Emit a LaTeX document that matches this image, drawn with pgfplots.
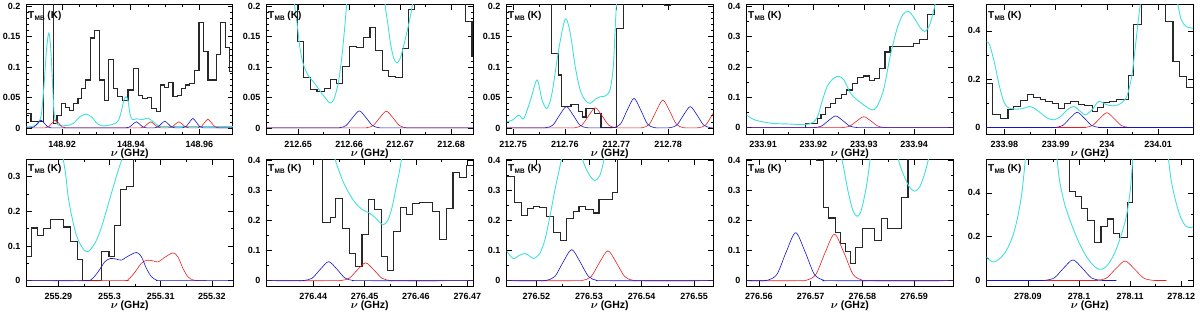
\documentclass[border=0pt]{standalone}
\usepackage{pgfplots}
\pgfplotsset{compat=1.18}
\usepackage{fontspec}
\setmainfont{Liberation Sans}
\definecolor{cyn}{RGB}{64,224,220}
\definecolor{blu}{RGB}{20,20,200}
\definecolor{rd}{RGB}{230,30,30}
\definecolor{hst}{RGB}{40,40,40}
\newcommand{\tmb}{T\kern0.3pt\raisebox{-1.5pt}{\fontsize{6.5}{7}\selectfont MB}\ (K)}
\pgfplotsset{
 panel/.style={scale only axis, width=206.5pt, anchor=south west,
  axis line style={line width=1pt}, tick align=inside,
  major tick length=5pt, minor tick length=2.5pt,
  every tick/.style={black,line width=0.6pt}, scaled ticks=false,
  xticklabel style={anchor=center, yshift=-10.5pt, inner sep=0pt},
  yticklabel style={anchor=east, xshift=-6pt, inner sep=0pt},
  tick label style={font=\fontsize{9}{10}\selectfont\bfseries},
  label style={font=\fontsize{10.5}{11}\selectfont\bfseries},
  xlabel={$\boldsymbol{\nu}$ (GHz)},
  xlabel style={at={(axis description cs:0.5,0)}, anchor=center, yshift=-20pt, inner sep=0pt},
  no markers, clip=true},
 toprow/.style={panel, height=129pt},
 botrow/.style={panel, height=126pt},
 hist/.style={hst, line width=1.1pt, const plot},
 cy/.style={cyn, line width=0.9pt, smooth},
 bl/.style={blu, line width=0.6pt, smooth},
 rdl/.style={rd, line width=0.6pt, smooth},
}
\usepackage{amsmath,amssymb}
\newcommand{\tlab}[1]{\node[anchor=north west, inner sep=0pt, xshift=1.5pt, yshift=#1, font=\fontsize{10}{11}\selectfont\bfseries] at (rel axis cs:0,1) {\tmb};}
\begin{document}
\begin{tikzpicture}
\useasboundingbox (0,0) rectangle (1200pt,314pt);
% ---------------- Panel 1 ----------------
\begin{axis}[toprow, at={(26.5pt,180pt)}, xmin=9.6, xmax=69.8, ymin=-0.01, ymax=0.202,
 xtick={20,40,60}, xticklabels={148.92,148.94,148.96},
 ytick={0,0.05,0.1,0.15,0.2}, yticklabels={0,0.05,0.1,0.15,0.2}, minor x tick num=3, minor y tick num=4]
\addplot[hist] coordinates {(9.6,0.0237) (10.9,0.0099) (14.5,0.5) (17.4,0.0072) (18.5,0.0209) (19.8,0.0402) (21.0,0.0336) (22.2,0.0281) (23.4,0.0402) (24.6,0.0485) (25.7,0.0650) (26.9,0.0788) (28.2,0.1477) (29.5,0.1603) (31.0,0.0788) (32.3,0.0457) (33.5,0.1130) (34.9,0.0650) (36.2,0.0512) (37.6,0.0457) (39.2,0.0623) (40.9,0.0981) (42.3,0.0540) (43.5,0.0485) (44.8,0.0496) (46.0,0.0320) (47.4,0.0276) (48.6,0.0705) (49.9,0.0667) (51.0,0.0744) (52.3,0.0512) (53.6,0.0540) (54.7,0.0650) (55.9,0.0705) (57.2,0.0733) (58.6,0.0937) (59.9,0.1736) (61.3,0.1256) (62.5,0.0788) (65.0,0.1201) (66.2,0.1725) (67.6,0.1328) (68.8,0.0926) (69.8,0.0926)};
\addplot[cy] coordinates {(9.6,0.0017) (11.53,0.0028) (13.0,0.0072) (13.97,0.0237) (14.75,0.0733) (15.43,0.1284) (16.11,0.1559) (16.69,0.1284) (17.18,0.0733) (17.66,0.0237) (18.35,0.0083) (19.32,0.0039) (21.26,0.0039) (23.21,0.0072) (25.16,0.0182) (26.91,0.0226) (28.56,0.0182) (30.22,0.0072) (31.97,0.0033) (34.89,0.0061) (36.35,0.0116) (37.32,0.0292) (38.0,0.0457) (38.58,0.0512) (39.17,0.0457) (39.75,0.0237) (40.43,0.0138) (41.7,0.0149) (43.45,0.0138) (45.1,0.016) (46.56,0.0099) (48.02,0.0039) (49.48,0.0022) (69.8,0.0022)};
\addplot[rdl] coordinates {(9.6,0) (14.0,0) (15.0,0.0001) (16.0,0.0017) (17.0,0.0077) (18.0,0.0127) (19.0,0.0077) (20.0,0.0017) (21.0,0.0001) (22.0,0) (41.8,0) (42.8,0.0001) (43.8,0.00135) (44.8,0.0061) (45.8,0.010) (46.8,0.0061) (47.8,0.00135) (48.8,0.0001) (49.8,0) (50.0,0) (51.0,0.0001) (52.0,0.00135) (53.0,0.0061) (54.0,0.010) (55.0,0.0061) (56.0,0.00135) (57.0,0.0001) (58.0,0) (58.5,0) (59.5,0.0002) (60.5,0.0019) (61.5,0.0087) (62.5,0.0143) (63.5,0.0087) (64.5,0.0019) (65.5,0.0002) (66.5,0) (69.8,0)};
\addplot[bl] coordinates {(9.6,0) (9.8,0) (10.8,0.0001) (11.8,0.0017) (12.8,0.0077) (13.8,0.0127) (14.8,0.0077) (15.8,0.0017) (16.8,0.0001) (17.8,0) (37.6,0) (38.6,0.0001) (39.6,0.00135) (40.6,0.0061) (41.6,0.010) (42.6,0.0061) (43.6,0.00135) (44.6,0.0001) (45.6,0) (45.9,0) (46.9,0.0001) (47.9,0.0015) (48.9,0.0067) (49.9,0.011) (50.9,0.0067) (51.9,0.0015) (52.9,0.0001) (53.9,0) (54.1,0) (55.1,0.0002) (56.1,0.0021) (57.1,0.0094) (58.1,0.0155) (59.1,0.0094) (60.1,0.0021) (61.1,0.0002) (62.1,0) (69.8,0)};
\tlab{-6.5pt}
\end{axis}
% ---------------- Panel 2 ----------------
\begin{axis}[toprow, at={(266.5pt,180pt)}, xmin=3.8, xmax=44.3, ymin=-0.01, ymax=0.202,
 xtick={10,20,30,40}, xticklabels={212.65,212.66,212.67,212.68},
 ytick={0,0.05,0.1,0.15,0.2}, yticklabels={0,0.05,0.1,0.15,0.2}, minor x tick num=1, minor y tick num=4]
\addplot[hist] coordinates {(3.8,0.3) (9.8,0.1414) (11.0,0.0827) (12.4,0.063) (13.7,0.0592) (15.2,0.0647) (16.3,0.0795) (17.5,0.0729) (18.7,0.1003) (20.1,0.1332) (21.4,0.1321) (22.8,0.1485) (24.1,0.1644) (25.2,0.1277) (26.5,0.0948) (27.7,0.0849) (29.1,0.0822) (30.5,0.1304) (31.6,0.1945) (32.9,0.3) (42.9,0.1743) (44.1,0.1167) (44.3,0.1167)};
\addplot[cy] coordinates {(8.69,0.2428) (9.35,0.1989) (9.8,0.1715) (10.33,0.1332) (10.98,0.1058) (11.96,0.0866) (13.27,0.0729) (14.58,0.0575) (15.69,0.0455) (16.34,0.0411) (17.0,0.0466) (17.85,0.0729) (18.5,0.1112) (19.03,0.1551) (19.48,0.1989) (19.88,0.2428)};
\addplot[cy] coordinates {(26.68,0.2428) (27.07,0.2017) (27.59,0.1715) (28.12,0.1386) (28.77,0.114) (29.42,0.1069) (30.08,0.1156) (30.73,0.1359) (31.58,0.166) (32.24,0.1934) (32.69,0.2208) (33.0,0.26)};
\addplot[rdl] coordinates {(3.8,0) (22.1,0) (23.4,0.0003) (24.7,0.0037) (26.0,0.0166) (27.3,0.0274) (28.6,0.0166) (29.9,0.0037) (31.2,0.0003) (32.5,0) (44.3,0)};
\addplot[bl] coordinates {(3.8,0) (16.8,0) (18.1,0.0003) (19.4,0.0038) (20.7,0.017) (22.0,0.028) (23.3,0.017) (24.6,0.0038) (25.9,0.0003) (27.2,0) (44.3,0)};
\tlab{-6.5pt}
\end{axis}
% ---------------- Panel 3 ----------------
\begin{axis}[toprow, at={(506.5pt,180pt)}, xmin=8.7, xmax=48.7, ymin=-0.01, ymax=0.202,
 xtick={10,20,30,40}, xticklabels={212.75,212.76,212.77,212.78},
 ytick={0,0.05,0.1,0.15,0.2}, yticklabels={0,0.05,0.1,0.15,0.2}, minor x tick num=1, minor y tick num=4]
\addplot[hist] coordinates {(8.7,0.3) (17.5,0.123) (18.8,0.087) (19.4,0.035) (21.2,0.039) (22.6,0.027) (23.5,0.018) (24.1,0.032) (25.7,0.024) (27.0,0.0) (30.0,0.164) (31.4,0.3) (39.3,0.201) (40.4,0.3) (48.7,0.3)};
\addplot[cy] coordinates {(8.72,0.0099) (9.81,0.0127) (11.09,0.0209) (12.05,0.0154) (13.34,0.0457) (14.62,0.0788) (15.59,0.0457) (16.55,0.032) (17.51,0.0568) (18.8,0.1284) (20.08,0.1791) (21.04,0.1559) (22.01,0.1008) (22.97,0.0623) (23.93,0.0457) (24.89,0.0402) (25.86,0.0468) (26.82,0.0512) (27.78,0.0523) (28.75,0.0623) (29.39,0.1008) (29.71,0.1559) (30.03,0.211) (30.2,0.25)};
\addplot[rdl] coordinates {(8.7,0) (20.7,0) (22.0,0.0004) (23.3,0.0045) (24.6,0.020) (25.9,0.033) (27.2,0.020) (28.5,0.0045) (29.8,0.0004) (31.1,0) (33.8,0) (35.1,0.0005) (36.4,0.0062) (37.7,0.0277) (39.0,0.0457) (40.3,0.0277) (41.6,0.0062) (42.9,0.0005) (44.2,0) (44.7,0) (46.0,0.0004) (47.3,0.0049) (48.6,0.0219) (49.9,0.036) (51.2,0.0219)};
\addplot[bl] coordinates {(8.7,0) (15.1,0) (16.4,0.0004) (17.7,0.0047) (19.0,0.0212) (20.3,0.035) (21.6,0.0212) (22.9,0.0047) (24.2,0.0004) (25.5,0) (28.2,0) (29.5,0.0005) (30.8,0.0065) (32.1,0.0294) (33.4,0.0485) (34.7,0.0294) (36.0,0.0065) (37.3,0.0005) (38.6,0) (39.1,0) (40.4,0.0004) (41.7,0.0047) (43.0,0.0212) (44.3,0.035) (45.6,0.0212) (46.9,0.0047) (48.2,0.0004) (49.5,0)};
\tlab{-6.5pt}
\end{axis}
% ---------------- Panel 4 ----------------
\begin{axis}[toprow, at={(746.5pt,180pt)}, xmin=6.7, xmax=47.7, ymin=-0.021, ymax=0.404,
 xtick={10,20,30,40}, xticklabels={233.91,233.92,233.93,233.94},
 ytick={0,0.1,0.2,0.3,0.4}, yticklabels={0,0.1,0.2,0.3,0.4}, minor x tick num=1, minor y tick num=1]
\addplot[hist] coordinates {(18.5,0) (18.5,0.014) (20.8,0.029) (21.5,0.042) (22.4,0.067) (23.4,0.080) (24.4,0.097) (25.5,0.108) (26.6,0.124) (27.7,0.146) (28.8,0.166) (30.0,0.170) (31.1,0.155) (32.1,0.163) (33.1,0.194) (34.2,0.249) (35.2,0.267) (39.8,0.276) (41.1,0.289) (42.6,0.374) (44.1,0.5) (47.7,0.5)};
\addplot[cy] coordinates {(6.73,0.0418) (8.36,0.0253) (11.64,0.0143) (14.91,0.0121) (18.19,0.0099) (19.83,0.0165) (20.81,0.0363) (21.79,0.0913) (22.77,0.1375) (24.08,0.1639) (25.07,0.1683) (26.05,0.1573) (27.36,0.1133) (28.67,0.0913) (29.98,0.0748) (31.62,0.0583) (32.6,0.0693) (33.91,0.1243) (35.22,0.2343) (36.53,0.3223) (37.71,0.3718) (38.82,0.3828) (39.8,0.3663) (41.11,0.3311) (42.1,0.3168) (43.08,0.3388) (44.06,0.3993) (44.72,0.4543)};
\addplot[rdl] coordinates {(6.7,0) (24.4,0) (25.8,0.0004) (27.2,0.0049) (28.6,0.0219) (30.0,0.036) (31.4,0.0219) (32.8,0.0049) (34.2,0.0004) (35.6,0) (47.7,0)};
\addplot[bl] coordinates {(6.7,0) (18.8,0) (20.2,0.0004) (21.6,0.0052) (23.0,0.0234) (24.4,0.0385) (25.8,0.0234) (27.2,0.0052) (28.6,0.0004) (30.0,0) (47.7,0)};
\tlab{-6.5pt}
\end{axis}
% ---------------- Panel 5 ----------------
\begin{axis}[toprow, at={(986.5pt,180pt)}, xmin=6.5, xmax=46.8, ymin=-0.027, ymax=0.507,
 xtick={10,20,30,40}, xticklabels={233.98,233.99,234,234.01},
 ytick={0,0.2,0.4}, yticklabels={0,0.2,0.4}, minor x tick num=1, minor y tick num=1]
\addplot[hist] coordinates {(6.5,0.1834) (7.7,0.0524) (9.2,0.0386) (10.7,0.0731) (11.8,0.0869) (13.1,0.1117) (14.5,0.1351) (15.7,0.1241) (17.0,0.1172) (18.1,0.1076) (19.4,0.1007) (20.6,0.08) (21.7,0.1007) (22.9,0.1076) (24.5,0.0938) (25.6,0.0896) (27.1,0.0662) (28.2,0.0841) (29.4,0.1034) (30.5,0.1076) (31.9,0.1172) (34.2,0.2137) (35.2,0.4247) (36.8,0.7) (41.5,0.4385) (42.9,0.273) (44.2,0.211) (45.5,0.1669) (46.8,0.1669)};
\addplot[cy] coordinates {(6.45,0.3558) (7.1,0.342) (8.07,0.2661) (9.03,0.1696) (10.0,0.1007) (10.97,0.08) (12.58,0.0758) (13.87,0.08) (14.84,0.0869) (15.81,0.08) (17.1,0.0593) (18.39,0.0386) (19.68,0.0317) (20.97,0.0455) (22.26,0.0731) (23.55,0.0869) (24.84,0.0662) (25.8,0.0524) (27.09,0.0731) (28.38,0.1076) (30.0,0.0938) (31.29,0.0896) (32.58,0.0979) (33.87,0.1282) (34.83,0.211) (35.48,0.3213) (36.13,0.4454) (36.77,0.5557)};
\addplot[cy] coordinates {(43.41,0.5557) (43.86,0.5075) (44.51,0.4454) (45.48,0.4178) (46.77,0.411)};
\addplot[rdl] coordinates {(6.5,0) (24.4,0) (25.8,0.0007) (27.2,0.0082) (28.6,0.037) (30.0,0.061) (31.4,0.037) (32.8,0.0082) (34.2,0.0007) (35.6,0) (46.8,0)};
\addplot[bl] coordinates {(6.5,0) (18.6,0) (20.0,0.0007) (21.4,0.0085) (22.8,0.0382) (24.2,0.063) (25.6,0.0382) (27.0,0.0085) (28.4,0.0007) (29.8,0) (46.8,0)};
\tlab{-6.5pt}
\end{axis}
% ---------------- Panel 6 ----------------
\begin{axis}[botrow, at={(26.5pt,28pt)}, xmin=3.8, xmax=44.1, ymin=-0.0155, ymax=0.348,
 xtick={10,20,30,40}, xticklabels={255.29,255.3,255.31,255.32},
 ytick={0,0.1,0.2,0.3}, yticklabels={0,0.1,0.2,0.3}, minor x tick num=1, minor y tick num=1]
\addplot[hist] coordinates {(3.8,0.0707) (4.8,0.1518) (5.9,0.1308) (7.2,0.15) (8.5,0.1767) (11.1,0.1547) (12.4,0.1117) (13.7,0.0621) (14.7,0.0) (18.4,0.085) (19.9,0.0707) (21.0,0.1595) (22.1,0.2626) (23.4,0.2722) (24.7,0.6) (44.1,0.6)};
\addplot[cy] coordinates {(10.65,0.3839) (10.97,0.3505) (11.43,0.3075) (11.95,0.2407) (12.6,0.1881) (13.44,0.1356) (14.22,0.107) (15.06,0.0879) (15.84,0.084) (16.68,0.0974) (17.46,0.1165) (18.44,0.1547) (19.41,0.2025) (20.71,0.2693) (21.68,0.3171) (22.53,0.3553) (22.98,0.3839)};
\addplot[rdl] coordinates {(3.8,0) (22.01,0) (23.63,0.0035) (24.93,0.024) (26.23,0.05) (27.33,0.059) (28.5,0.057) (29.47,0.054) (30.77,0.067) (32.39,0.080) (33.37,0.068) (34.34,0.035) (35.31,0.011) (36.29,0.002) (37.58,0) (38.9,0)};
\addplot[bl] coordinates {(3.8,0) (14.87,0) (16.49,0.0038) (17.79,0.0258) (19.09,0.0544) (20.19,0.064) (21.36,0.062) (22.33,0.0592) (23.63,0.0707) (25.25,0.0812) (26.23,0.0688) (27.2,0.0353) (28.17,0.0115) (29.15,0.0019) (30.44,0) (44.1,0)};
\tlab{-4.5pt}
\end{axis}
% ---------------- Panel 7 ----------------
\begin{axis}[botrow, at={(266.5pt,28pt)}, xmin=0.9, xmax=41.1, ymin=-0.0176, ymax=0.4,
 xtick={10,20,30,40}, xticklabels={276.44,276.45,276.46,276.47},
 ytick={0,0.1,0.2,0.3,0.4}, yticklabels={0,0.1,0.2,0.3,0.4}, minor x tick num=1, minor y tick num=1]
\addplot[hist] coordinates {(0.9,0.6) (11.8,0.1923) (13.3,0.2088) (14.4,0.2715) (15.7,0.1725) (17.0,0.0901) (18.2,0.0483) (19.5,0.1539) (20.8,0.2682) (21.9,0.2352) (23.2,0.0813) (24.5,0.0352) (25.6,0.1638) (26.9,0.2418) (28.2,0.2198) (29.4,0.255) (30.7,0.2583) (33.3,0.2308) (34.6,0.1374) (35.9,0.2385) (37.2,0.3594) (38.5,0.3429) (39.8,0.3814) (41.1,0.3814)};
\addplot[cy] coordinates {(13.78,0.4308) (14.43,0.3923) (15.73,0.3319) (17.03,0.2879) (18.33,0.255) (19.63,0.2352) (20.94,0.2242) (21.91,0.211) (22.89,0.1945) (23.67,0.1857) (24.52,0.2) (25.36,0.244) (26.14,0.3099) (26.8,0.3649) (27.45,0.4308)};
\addplot[rdl] coordinates {(0.9,0) (13.8,0) (15.4,0.0006) (17.0,0.008) (18.6,0.0358) (20.2,0.059) (21.8,0.0358) (23.4,0.008) (25.0,0.0006) (26.6,0) (41.1,0)};
\addplot[bl] coordinates {(0.9,0) (6.6,0) (8.2,0.0007) (9.8,0.0085) (11.4,0.0382) (13.0,0.063) (14.6,0.0382) (16.2,0.0085) (17.8,0.0007) (19.4,0) (41.1,0)};
\tlab{-4.5pt}
\end{axis}
% ---------------- Panel 8 ----------------
\begin{axis}[botrow, at={(506.5pt,28pt)}, xmin=4.3, xmax=43.6, ymin=-0.0176, ymax=0.4,
 xtick={10,20,30,40}, xticklabels={276.52,276.53,276.54,276.55},
 ytick={0,0.1,0.2,0.3,0.4}, yticklabels={0,0.1,0.2,0.3,0.4}, minor x tick num=1, minor y tick num=1]
\addplot[hist] coordinates {(4.3,0.3451) (5.9,0.2605) (7.2,0.2165) (8.3,0.2407) (9.5,0.2473) (10.6,0.2418) (11.9,0.2132) (13.2,0.1583) (14.6,0.1341) (15.8,0.2055) (17.0,0.2308) (18.1,0.2473) (19.4,0.2352) (20.8,0.2242) (21.9,0.2682) (24.5,0.2934) (25.5,0.6) (43.6,0.6)};
\addplot[cy] coordinates {(4.29,0.0989) (5.56,0.0736) (6.7,0.0835) (7.78,0.0901) (8.73,0.0813) (9.49,0.0736) (10.63,0.0901) (11.59,0.1341) (12.54,0.211) (13.49,0.2989) (14.44,0.3759) (15.07,0.4308)};
\addplot[cy] coordinates {(18.24,0.4308) (19.19,0.3813) (20.14,0.3484) (21.1,0.3319) (22.05,0.3484) (22.68,0.3869) (23.19,0.4308)};
\addplot[rdl] coordinates {(4.3,0) (17.2,0) (18.8,0.0011) (20.4,0.0134) (22.0,0.0601) (23.6,0.099) (25.2,0.0601) (26.8,0.0134) (28.4,0.0011) (30.0,0) (43.6,0)};
\addplot[bl] coordinates {(4.3,0) (10.3,0) (11.9,0.0011) (13.5,0.0139) (15.1,0.0625) (16.7,0.103) (18.3,0.0625) (19.9,0.0139) (21.5,0.0011) (23.1,0) (43.6,0)};
\tlab{-4.5pt}
\end{axis}
% ---------------- Panel 9 ----------------
\begin{axis}[botrow, at={(746.5pt,28pt)}, xmin=7.6, xmax=47.5, ymin=-0.0176, ymax=0.4,
 xtick={10,20,30,40}, xticklabels={276.56,276.57,276.58,276.59},
 ytick={0,0.1,0.2,0.3,0.4}, yticklabels={0,0.1,0.2,0.3,0.4}, minor x tick num=1, minor y tick num=1]
\addplot[hist] coordinates {(7.6,0.6) (21.1,0.399) (22.4,0.244) (23.5,0.2077) (24.8,0.1583) (25.7,0.1231) (26.7,0.0956) (27.7,0.0571) (28.7,0.1099) (30.0,0.1725) (32.4,0.1341) (33.6,0.2055) (34.9,0.1725) (37.5,0.2748) (38.8,0.6) (47.5,0.6)};
\addplot[cy] coordinates {(25.58,0.4308) (26.23,0.3869) (27.19,0.2989) (28.16,0.233) (29.0,0.2132) (29.77,0.233) (30.74,0.3099) (31.38,0.3869) (31.7,0.4308)};
\addplot[cy] coordinates {(36.53,0.4308) (37.18,0.3869) (38.14,0.3429) (39.11,0.3099) (40.07,0.2967) (41.04,0.3099) (42.01,0.3539) (42.84,0.4088) (43.29,0.442)};
\addplot[rdl] coordinates {(7.6,0) (17.4,0) (19.2,0.0017) (21.0,0.0208) (22.8,0.0935) (24.6,0.154) (26.4,0.0935) (28.2,0.0208) (30.0,0.0017) (31.8,0) (47.5,0)};
\addplot[bl] coordinates {(7.6,0) (9.9,0) (11.7,0.0017) (13.5,0.0215) (15.3,0.0965) (17.1,0.159) (18.9,0.0965) (20.7,0.0215) (22.5,0.0017) (24.3,0) (47.5,0)};
\tlab{-4.5pt}
\end{axis}
% ---------------- Panel 10 ----------------
\begin{axis}[botrow, at={(986.5pt,28pt)}, xmin=1.9, xmax=42.3, ymin=-0.025, ymax=0.55,
 xtick={10,20,30,40}, xticklabels={278.09,278.1,278.11,278.12},
 ytick={0,0.2,0.4}, yticklabels={0,0.2,0.4}, minor x tick num=1, minor y tick num=1]
\addplot[hist] coordinates {(1.9,0.8) (18.2,0.4077) (19.3,0.3835) (20.4,0.3307) (21.7,0.2748) (23.0,0.1737) (24.3,0.2446) (25.5,0.2809) (26.8,0.2144) (27.9,0.1963) (29.4,0.3579) (30.5,0.8) (42.3,0.8)};
\addplot[cy] coordinates {(1.85,0.1087) (2.5,0.0936) (3.15,0.0846) (4.13,0.0936) (5.44,0.1238) (6.74,0.1842) (7.72,0.2597) (8.7,0.3805) (9.22,0.4862) (9.54,0.5617) (9.8,0.6221)};
\addplot[cy] coordinates {(15.35,0.6221) (15.67,0.5617) (16.19,0.456) (17.17,0.3503) (18.48,0.2597) (19.78,0.1842) (21.08,0.1238) (22.39,0.0785) (23.5,0.0559) (24.34,0.0513) (25.32,0.0634) (26.63,0.1087) (27.93,0.1842) (29.23,0.2899) (30.02,0.4107) (30.54,0.5617) (30.73,0.6221)};
\addplot[cy] coordinates {(37.06,0.6221) (37.45,0.5617) (38.04,0.456) (38.88,0.3654) (39.86,0.2899) (40.84,0.2492) (41.75,0.2416) (42.27,0.2446)};
\addplot[rdl] coordinates {(1.9,0) (21.8,0) (23.6,0.001) (25.4,0.012) (27.2,0.054) (29.0,0.089) (30.8,0.054) (32.6,0.012) (34.4,0.001) (36.2,0) (37.1,0)};
\addplot[bl] coordinates {(1.9,0) (11.6,0) (13.4,0.001) (15.2,0.0127) (17.0,0.0571) (18.8,0.094) (20.6,0.0571) (22.4,0.0127) (24.2,0.001) (26.0,0) (27.3,0)};
\tlab{-4.5pt}
\end{axis}
\end{tikzpicture}
\end{document}
